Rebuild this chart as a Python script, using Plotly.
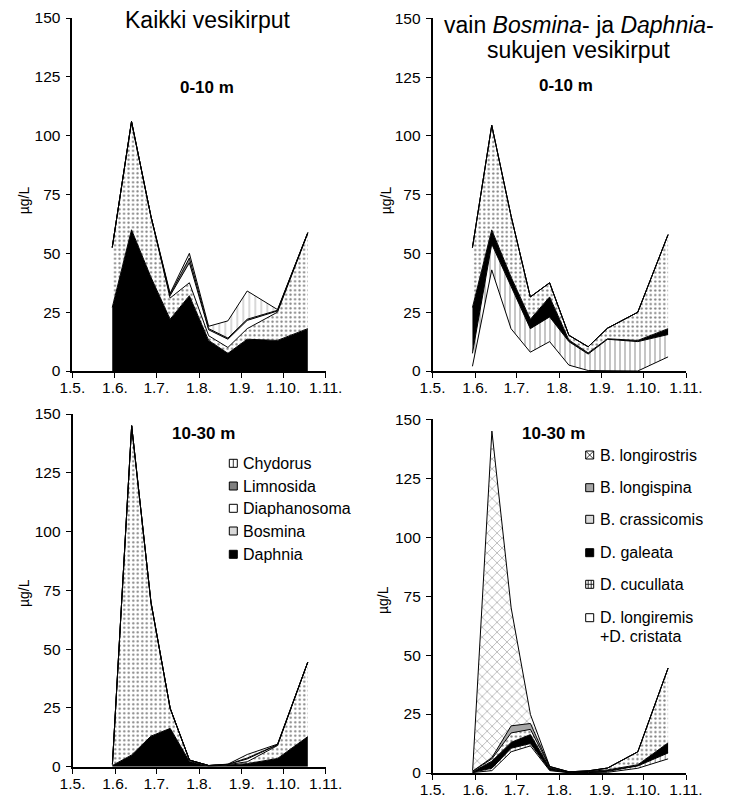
import plotly.graph_objects as go

# Sampling dates (year is nominal; only day and month are shown)
dates = ["2011-05-30", "2011-06-13", "2011-06-27", "2011-07-11", "2011-07-25",
         "2011-08-08", "2011-08-22", "2011-09-05", "2011-09-27", "2011-10-19"]

month_ticks = ["2011-05-01", "2011-06-01", "2011-07-01", "2011-08-01",
               "2011-09-01", "2011-10-01", "2011-11-01"]
month_labels = ["1.5.", "1.6.", "1.7.", "1.8.", "1.9.", "1.10.", "1.11."]
y_ticks = [0, 25, 50, 75, 100, 125, 150]

# Biomass (µg/L), 0-10 m, all cladocerans
daphnia_0_10 = [27, 60, 40, 22, 32, 13, 7.5, 13.5, 13, 18]
bosmina_0_10 = [25.5, 46, 26, 9, 5.5, 2, 2.5, 4.5, 12, 40.5]
diaphanosoma_0_10 = [0, 0, 0, 1, 8.5, 2.5, 3.5, 3.5, 0.5, 0.3]
limnosida_0_10 = [0, 0, 0, 0.5, 2, 0.5, 0.5, 0.5, 0.3, 0]
chydorus_0_10 = [0, 0, 0, 0.5, 2, 1, 7.3, 12, 0.3, 0]

# Biomass (µg/L), 10-30 m, all cladocerans
daphnia_10_30 = [0.5, 5, 13, 16.3, 2.2, 0.3, 0.7, 1.3, 3.5, 12.8]
bosmina_10_30 = [0.5, 140, 57, 8.5, 0.6, 0.2, 0.2, 0.8, 5.5, 31.7]
diaphanosoma_10_30 = [0, 0, 0, 0, 0, 0, 0.1, 1.2, 0.3, 0]
limnosida_10_30 = [0, 0, 0, 0, 0, 0, 0, 0.4, 0.1, 0]
chydorus_10_30 = [0, 0, 0, 0, 0, 0, 0.1, 1.5, 0.2, 0]

# Biomass (µg/L), 0-10 m, Bosmina and Daphnia species
longiremis_0_10 = [2, 43, 18, 8, 12.5, 2.5, 0.2, 0, 0, 6]
cucullata_0_10 = [5.5, 11, 18, 10, 10.5, 10, 7, 13.5, 12.5, 9.5]
galeata_0_10 = [19.5, 6, 4, 4, 8.5, 0.7, 0.5, 0.2, 0.5, 2.5]
crassicornis_0_10 = [25.5, 44.5, 26, 9.5, 6, 2, 2.6, 4.5, 12, 40]
longispina_0_10 = [0, 0, 0, 0, 0, 0, 0, 0, 0, 0]
longirostris_0_10 = [0, 0, 0, 0, 0, 0, 0, 0, 0, 0]

# Biomass (µg/L), 10-30 m, Bosmina and Daphnia species
longiremis_10_30 = [0.2, 1, 9, 11.5, 1, 0.1, 0.2, 0.3, 2, 6]
cucullata_10_30 = [0.1, 1, 1.5, 1, 0.3, 0.1, 0.2, 0.4, 1, 2.5]
galeata_10_30 = [0.2, 3, 2.5, 3.8, 0.9, 0.1, 0.3, 0.6, 0.5, 4.3]
crassicornis_10_30 = [0.3, 1, 4, 2.2, 0.4, 0.2, 0.2, 0.8, 5.5, 31.7]
longispina_10_30 = [0, 0.5, 3, 2.5, 0.1, 0, 0, 0, 0, 0]
longirostris_10_30 = [0.2, 138.5, 50, 3.8, 0.1, 0, 0, 0, 0, 0]

W, H = 736, 799
FONT = "Liberation Sans, Arial, sans-serif"


def px(x):
    return x / W


def py(y):
    return 1 - y / H


# fill styles
DOTS = dict(shape=".", fgcolor="black", bgcolor="white", size=4.5, solidity=0.2)
VHATCH = dict(shape="|", fgcolor="#444", bgcolor="white", size=6, solidity=0.14)
VHATCH2 = dict(shape="|", fgcolor="black", bgcolor="white", size=5, solidity=0.18)
XHATCH = dict(shape="x", fgcolor="#222", bgcolor="white", size=7, solidity=0.16)

fig = go.Figure()


def area(values, axis, group, name, fillcolor=None, pattern=None):
    kw = dict(x=dates, y=values, mode="lines", stackgroup=group, name=name,
              line=dict(color="black", width=1), showlegend=False,
              xaxis="x" + axis, yaxis="y" + axis, hoverinfo="x+y+name")
    if pattern is not None:
        kw["fillpattern"] = pattern
        kw["fillcolor"] = "white"
    else:
        kw["fillcolor"] = fillcolor
    fig.add_trace(go.Scatter(**kw))


# all cladocerans, bottom to top
for ax, grp, d, b, di, li, ch in [
        ("", "tl", daphnia_0_10, bosmina_0_10, diaphanosoma_0_10, limnosida_0_10, chydorus_0_10),
        ("3", "bl", daphnia_10_30, bosmina_10_30, diaphanosoma_10_30, limnosida_10_30, chydorus_10_30)]:
    area(d, ax, grp, "Daphnia", fillcolor="black")
    area(b, ax, grp, "Bosmina", pattern=DOTS)
    area(di, ax, grp, "Diaphanosoma", fillcolor="white")
    area(li, ax, grp, "Limnosida", fillcolor="#808080")
    area(ch, ax, grp, "Chydorus", pattern=VHATCH)

# species of Bosmina and Daphnia, bottom to top
for ax, grp, lr, cu, ga, cr, ls, lo in [
        ("2", "tr", longiremis_0_10, cucullata_0_10, galeata_0_10,
         crassicornis_0_10, longispina_0_10, longirostris_0_10),
        ("4", "br", longiremis_10_30, cucullata_10_30, galeata_10_30,
         crassicornis_10_30, longispina_10_30, longirostris_10_30)]:
    area(lr, ax, grp, "D. longiremis +D. cristata", fillcolor="white")
    area(cu, ax, grp, "D. cucullata", pattern=VHATCH2)
    area(ga, ax, grp, "D. galeata", fillcolor="black")
    area(cr, ax, grp, "B. crassicornis", pattern=DOTS)
    area(ls, ax, grp, "B. longispina", fillcolor="#a6a6a6")
    area(lo, ax, grp, "B. longirostris", pattern=XHATCH)

# panel frames in pixels: (left, right, top, bottom)
panels = {
    "": (72.3, 325.7, 18, 371),
    "2": (432.5, 686, 18.3, 371),
    "3": (72.5, 325.7, 414, 766.7),
    "4": (432.7, 686, 419.3, 773),
}

layout_axes = {}
for key, (l, r, t, b) in panels.items():
    xname = "xaxis" + key
    yname = "yaxis" + key
    layout_axes[xname] = dict(
        type="date", range=["2011-05-01", "2011-11-01"],
        domain=[px(l), px(r)], anchor="y" + key,
        tickmode="array", tickvals=month_ticks, ticktext=month_labels,
        ticks="outside", ticklen=5, tickwidth=1.4, tickcolor="black",
        ticklabelstandoff=-3,
        showline=True, linecolor="black", linewidth=1.6,
        showgrid=False, zeroline=False, automargin=False,
        tickfont=dict(family=FONT, size=15.5, color="black"), fixedrange=True)
    layout_axes[yname] = dict(
        range=[0, 150], domain=[py(b), py(t)], anchor="x" + key,
        tickmode="array", tickvals=y_ticks,
        ticks="outside", ticklen=5, tickwidth=1.4, tickcolor="black",
        ticklabelstandoff=2,
        showline=True, linecolor="black", linewidth=1.6,
        showgrid=False, zeroline=False, automargin=False,
        tickfont=dict(family=FONT, size=15.5, color="black"), fixedrange=True)

annotations = []


def text(x, y, s, size, bold=False, xanchor="center", angle=0):
    annotations.append(dict(
        x=px(x), y=py(y), xref="paper", yref="paper", text=("<b>%s</b>" % s) if bold else s,
        showarrow=False, xanchor=xanchor, yanchor="middle", textangle=angle,
        font=dict(family=FONT, size=size, color="black")))


# headings
text(207.5, 20, "Kaikki vesikirput", 23)
text(578.8, 25, "vain <i>Bosmina</i>- ja <i>Daphnia</i>-", 23)
text(578, 50, "sukujen vesikirput", 23)
text(206.7, 88, "0-10 m", 17, bold=True)
text(566.3, 86, "0-10 m", 17, bold=True)
text(203.3, 433.3, "10-30 m", 17, bold=True)
text(553.8, 433.3, "10-30 m", 17, bold=True)

# y-axis titles
text(24.3, 200, "µg/L", 14, angle=-90)
text(386.3, 200, "µg/L", 14, angle=-90)
text(24, 593, "µg/L", 14, angle=-90)
text(383, 600, "µg/L", 14, angle=-90)

shapes = []


def swatch(cx, cy, kind):
    s = 4
    x0, x1, y0, y1 = px(cx - s), px(cx + s), py(cy + s), py(cy - s)
    fills = {"white": "white", "gray": "#808080", "lgray": "#a6a6a6",
             "black": "black", "dots": "#d9d9d9", "vh": "white", "vh2": "white",
             "xh": "white"}
    shapes.append(dict(type="rect", xref="paper", yref="paper", x0=x0, x1=x1, y0=y0, y1=y1,
                       fillcolor=fills[kind], line=dict(color="black", width=1)))
    line = dict(color="black", width=0.8)
    if kind == "vh":
        shapes.append(dict(type="line", xref="paper", yref="paper",
                           x0=px(cx), x1=px(cx), y0=y0, y1=y1, line=line))
    elif kind == "vh2":
        for dx in (-1.5, 1.5):
            shapes.append(dict(type="line", xref="paper", yref="paper",
                               x0=px(cx + dx), x1=px(cx + dx), y0=y0, y1=y1, line=line))
        shapes.append(dict(type="line", xref="paper", yref="paper",
                           x0=x0, x1=x1, y0=py(cy), y1=py(cy), line=line))
    elif kind == "xh":
        shapes.append(dict(type="line", xref="paper", yref="paper",
                           x0=x0, x1=x1, y0=y0, y1=y1, line=line))
        shapes.append(dict(type="line", xref="paper", yref="paper",
                           x0=x0, x1=x1, y0=y1, y1=y0, line=line))


# legend, all cladocerans
legend_all = [("Chydorus", "vh", 463.3), ("Limnosida", "gray", 486),
              ("Diaphanosoma", "white", 508.3), ("Bosmina", "dots", 531),
              ("Daphnia", "black", 554.3)]
for label, kind, yy in legend_all:
    swatch(233.3, yy, kind)
    text(240.7, yy, label, 16, xanchor="left")

# legend, species
legend_sp = [("B. longirostris", "xh", 455), ("B. longispina", "lgray", 487.7),
             ("B. crassicomis", "dots", 519.3), ("D. galeata", "black", 552.7),
             ("D. cucullata", "vh2", 584.3), ("D. longiremis", "white", 617.7)]
for label, kind, yy in legend_sp:
    swatch(589.7, yy, kind)
    text(598, yy, label, 16, xanchor="left")
text(598, 636, "+D. cristata", 16, xanchor="left")

fig.update_layout(
    width=W, height=H, margin=dict(l=0, r=0, t=0, b=0),
    paper_bgcolor="white", plot_bgcolor="white",
    showlegend=False, annotations=annotations, shapes=shapes,
    font=dict(family=FONT, color="black"),
    **layout_axes)

fig.write_html("out.html")
